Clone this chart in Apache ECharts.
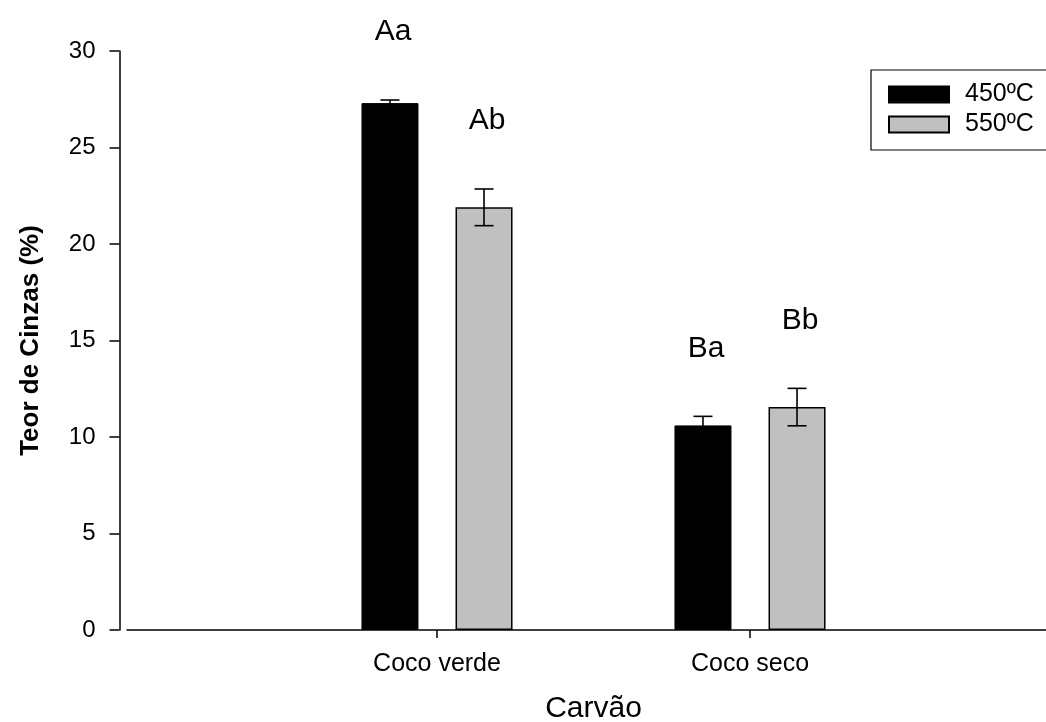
<!DOCTYPE html>
<html>
<head>
<meta charset="utf-8">
<script src="https://cdn.jsdelivr.net/npm/echarts@6/dist/echarts.min.js"></script>
<style>
  html, body { margin: 0; padding: 0; background: #fff; }
  #chart { width: 1046px; height: 722px; }
</style>
</head>
<body>
<div id="chart"></div>
<script>
// Ash content of coconut charcoal by carbonisation temperature
const categories = ['Coco verde', 'Coco seco'];
const seriesNames = ['450ºC', '550ºC'];
const ash450 = [27.3, 10.6];
const ash550 = [21.9, 11.55];
const err450 = [0.16, 0.47];
const err550 = [0.95, 0.97];
const letters450 = ['Aa', 'Ba'];
const letters550 = ['Ab', 'Bb'];
const yTicks = [0, 5, 10, 15, 20, 25, 30];

const FONT = '"Liberation Sans", Arial, Helvetica, sans-serif';
const BAR_WIDTH = 57;
const BAR_GAP = 0.65;          // fraction of bar width between the two bars
const LETTER_LIFT = 68;        // px between error-bar cap and letter

// horizontal offset of each series' bar centre from the category centre
function barOffset(k) {
  const total = BAR_WIDTH * 2 + BAR_WIDTH * BAR_GAP;
  return -total / 2 + BAR_WIDTH / 2 + k * (BAR_WIDTH + BAR_WIDTH * BAR_GAP);
}

function errorSeries(k, values, errs, letters) {
  return {
    type: 'custom',
    xAxisIndex: 0,
    yAxisIndex: 0,
    z: 10,
    data: values.map((v, i) => [i, v, errs[i]]),
    renderItem: function (params, api) {
      const i = api.value(0);
      const v = api.value(1);
      const e = api.value(2);
      const top = api.coord([i, v + e]);
      const bot = api.coord([i, v - e]);
      const x = top[0] + barOffset(k);
      const cap = 9.5;
      const style = { stroke: '#000', lineWidth: 1.6 };
      return {
        type: 'group',
        children: [
          { type: 'line', shape: { x1: x, y1: top[1], x2: x, y2: bot[1] }, style },
          { type: 'line', shape: { x1: x - cap, y1: top[1], x2: x + cap, y2: top[1] }, style },
          { type: 'line', shape: { x1: x - cap, y1: bot[1], x2: x + cap, y2: bot[1] }, style },
          {
            type: 'text',
            style: {
              text: letters[params.dataIndex],
              x: x + 3,
              y: top[1] - LETTER_LIFT,
              textAlign: 'center',
              textVerticalAlign: 'middle',
              fontSize: 30,
              fontFamily: FONT,
              fill: '#000'
            }
          }
        ]
      };
    }
  };
}

const chart = echarts.init(document.getElementById('chart'), null, { renderer: 'canvas' });

chart.setOption({
  animation: false,
  backgroundColor: '#fff',
  textStyle: { fontFamily: FONT, color: '#000' },
  legend: {
    data: seriesNames.map(n => ({ name: n })),
    orient: 'vertical',
    left: 871,
    top: 70,
    itemWidth: 60,
    itemHeight: 16,
    itemGap: 5,
    padding: [12, 20, 13, 17],
    borderColor: '#000',
    borderWidth: 1.2,
    icon: 'rect',
    textStyle: { fontSize: 25, fontFamily: FONT, color: '#000', padding: [0, 0, 0, 11] }
  },
  grid: [
    { left: 280.5, right: 139.5, top: 51, bottom: 92, outerBoundsMode: 'none' },
    { left: 127, right: 0, top: 51, bottom: 92, outerBoundsMode: 'none' }
  ],
  xAxis: [
    {
      type: 'category',
      gridIndex: 0,
      data: categories,
      axisLine: { show: false },
      axisTick: { show: true, alignWithLabel: true, length: 8, lineStyle: { color: '#000', width: 1.5 } },
      axisLabel: { fontSize: 25, color: '#000', margin: 22, fontFamily: FONT },
      name: 'Carvão',
      nameLocation: 'middle',
      nameGap: 64,
      nameTextStyle: { fontSize: 30, color: '#000', fontFamily: FONT }
    },
    {
      type: 'value',
      gridIndex: 1,
      min: 0,
      max: 1,
      axisLine: { show: true, onZero: false, lineStyle: { color: '#000', width: 1.5 } },
      axisTick: { show: false },
      axisLabel: { show: false },
      splitLine: { show: false }
    }
  ],
  yAxis: [
    {
      type: 'value',
      gridIndex: 0,
      min: yTicks[0],
      max: yTicks[yTicks.length - 1],
      interval: yTicks[1] - yTicks[0],
      offset: 161,
      axisLine: { show: true, lineStyle: { color: '#000', width: 1.5 } },
      axisTick: { show: true, length: 10, lineStyle: { color: '#000', width: 1.5 } },
      axisLabel: { fontSize: 24, color: '#000', margin: 24, fontFamily: FONT },
      splitLine: { show: false },
      name: 'Teor de Cinzas (%)',
      nameLocation: 'middle',
      nameGap: 76,
      nameRotate: 90,
      nameTextStyle: { fontSize: 26, fontWeight: 'bold', color: '#000', fontFamily: FONT }
    },
    {
      type: 'value',
      gridIndex: 1,
      min: 0,
      max: 30,
      show: false
    }
  ],
  series: [
    {
      name: seriesNames[0],
      type: 'bar',
      xAxisIndex: 0,
      yAxisIndex: 0,
      data: ash450,
      barWidth: BAR_WIDTH,
      barGap: (BAR_GAP * 100) + '%',
      itemStyle: { color: '#000', borderColor: '#000', borderWidth: 1 }
    },
    {
      name: seriesNames[1],
      type: 'bar',
      xAxisIndex: 0,
      yAxisIndex: 0,
      data: ash550,
      barWidth: BAR_WIDTH,
      barGap: (BAR_GAP * 100) + '%',
      itemStyle: { color: '#c0c0c0', borderColor: '#000', borderWidth: 1.5 }
    },
    errorSeries(0, ash450, err450, letters450),
    errorSeries(1, ash550, err550, letters550)
  ]
});
</script>
</body>
</html>
